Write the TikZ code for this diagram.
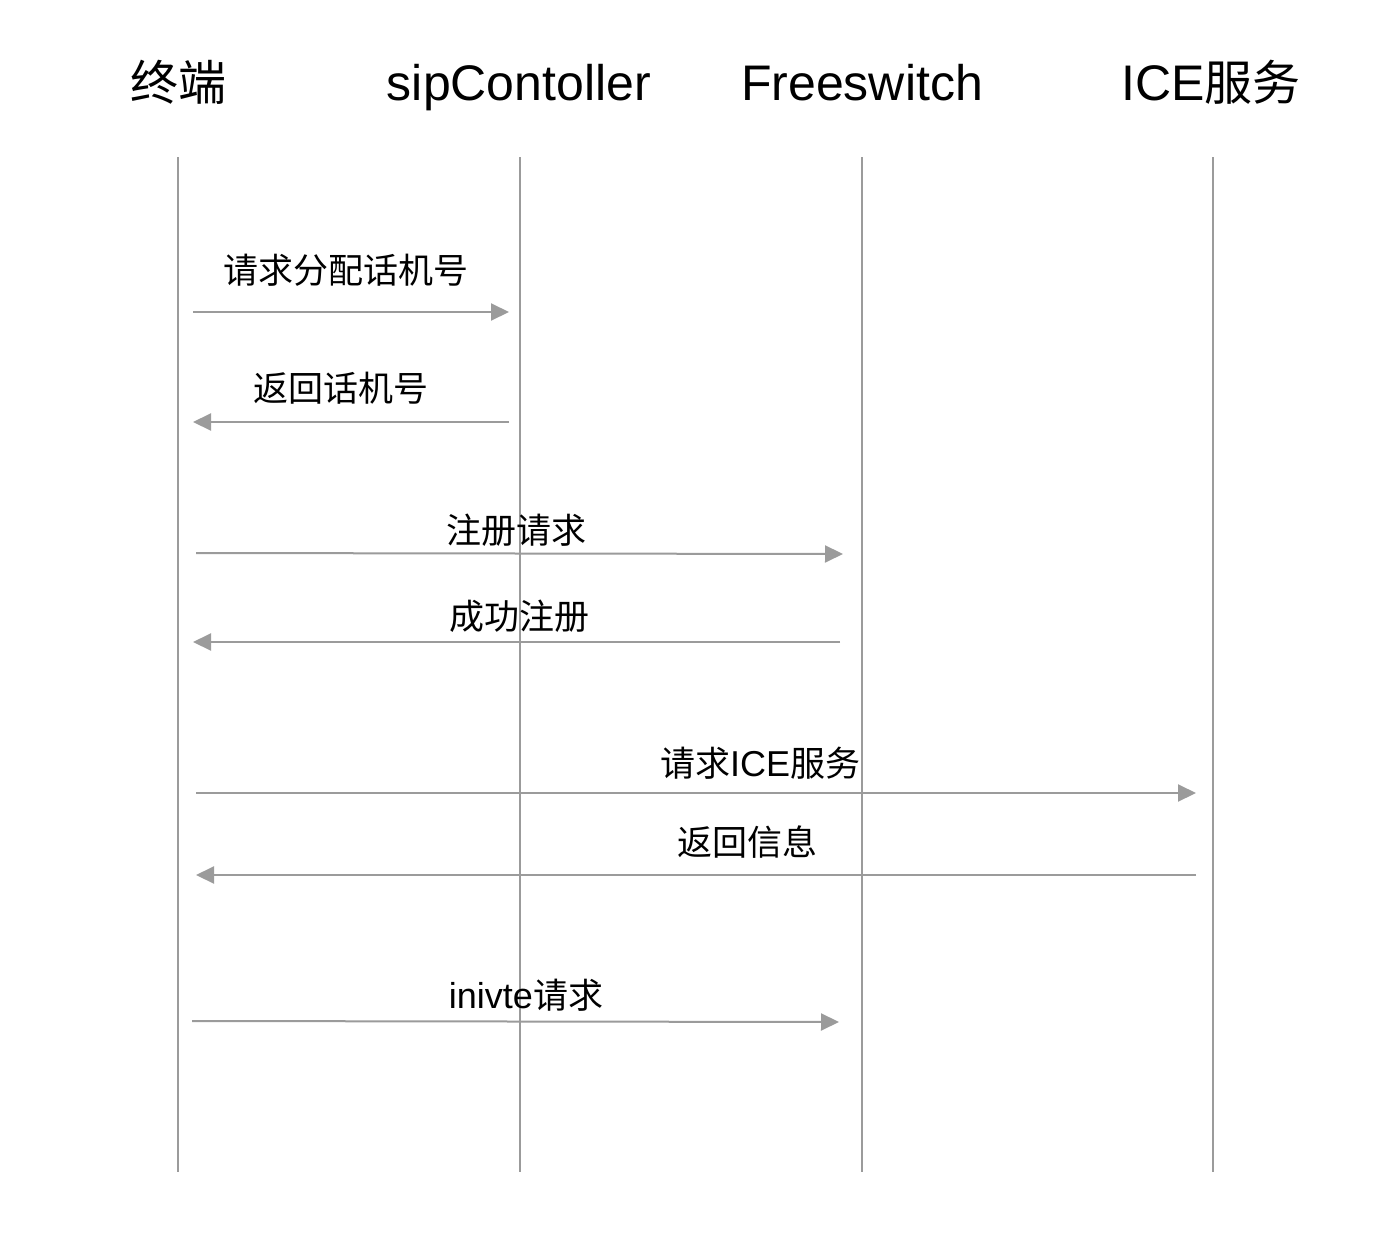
\documentclass[tikz,border=0pt]{standalone}
\usepackage{fontspec}
\setmainfont{Liberation Sans}
\newfontfamily\cjk{Noto Sans CJK SC}
\usetikzlibrary{arrows.meta}
\definecolor{linegray}{HTML}{9B9B9B}
\tikzset{
  titletext/.style={anchor=base, inner sep=0pt, font=\fontsize{50}{60}\selectfont, text=black},
  msgtext/.style={anchor=base, inner sep=0pt, font=\fontsize{36}{43}\selectfont, text=black},
  lifeline/.style={draw=linegray, line width=2pt},
  msg/.style={draw=linegray, line width=2pt, -{Triangle[length=18pt,width=17pt]}, color=linegray},
}
\newcommand{\cjktitle}[1]{{\cjk\fontsize{48}{58}\selectfont #1}}
\newcommand{\cjkmsg}[1]{{\cjk\fontsize{35}{42}\selectfont #1}}
\begin{document}
\begin{tikzpicture}[x=1pt,y=-1pt]
\useasboundingbox (0,0) rectangle (1384,1250);
\fill[white] (0,0) rectangle (1384,1250);
% titles
\node[titletext] (t1) at (178,100) {\cjktitle{终端}};
\node[titletext] (t2) at (519,100) {sipContoller};
\node[titletext] (t3) at (862,100) {Freeswitch};
\node[titletext] (t4) at (1211,100) {ICE\cjktitle{服务}};
% lifelines
\coordinate (a1) at (178,157); \coordinate (b1) at (178,1172);
\coordinate (a2) at (520,157); \coordinate (b2) at (520,1172);
\coordinate (a3) at (862,157); \coordinate (b3) at (862,1172);
\coordinate (a4) at (1213,157); \coordinate (b4) at (1213,1172);
\draw[lifeline] (a1) -- (b1);
\draw[lifeline] (a2) -- (b2);
\draw[lifeline] (a3) -- (b3);
\draw[lifeline] (a4) -- (b4);
% message endpoints
\coordinate (m1s) at (193,312); \coordinate (m1e) at (509,312);
\coordinate (m2s) at (509,422); \coordinate (m2e) at (193,422);
\coordinate (m3s) at (196,553); \coordinate (m3e) at (843,554);
\coordinate (m4s) at (840,642); \coordinate (m4e) at (193,642);
\coordinate (m5s) at (196,793); \coordinate (m5e) at (1196,793);
\coordinate (m6s) at (1196,875); \coordinate (m6e) at (196,875);
\coordinate (m7s) at (192,1021); \coordinate (m7e) at (839,1022);
\draw[msg] (m1s) -- (m1e);
\draw[msg] (m2s) -- (m2e);
\draw[msg] (m3s) -- (m3e);
\draw[msg] (m4s) -- (m4e);
\draw[msg] (m5s) -- (m5e);
\draw[msg] (m6s) -- (m6e);
\draw[msg] (m7s) -- (m7e);
% labels
\node[msgtext] (l1) at (346,283) {\cjkmsg{请求分配话机号}};
\node[msgtext] (l2) at (341,401) {\cjkmsg{返回话机号}};
\node[msgtext] (l3) at (516,543) {\cjkmsg{注册请求}};
\node[msgtext] (l4) at (519,629) {\cjkmsg{成功注册}};
\node[msgtext] (l5) at (760,776) {\cjkmsg{请求}ICE\cjkmsg{服务}};
\node[msgtext] (l6) at (747,855) {\cjkmsg{返回信息}};
\node[msgtext] (l7) at (526,1008) {inivte\cjkmsg{请求}};
\end{tikzpicture}
\end{document}
